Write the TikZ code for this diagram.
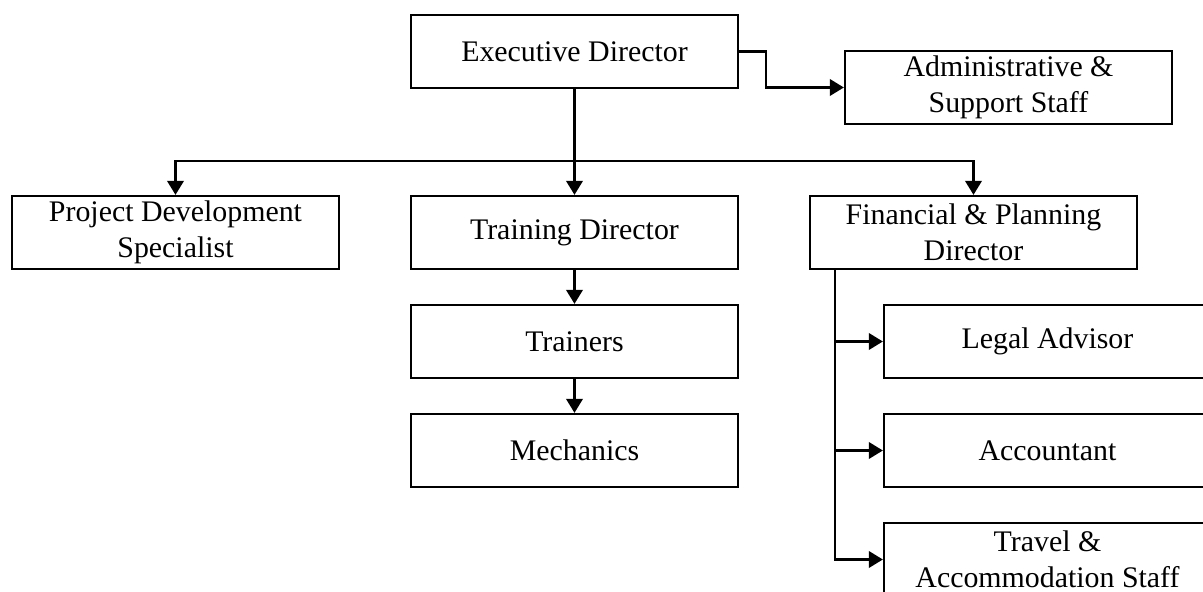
\documentclass[tikz,border=0pt]{standalone}
\usepackage{fontspec}
\setmainfont{Liberation Serif}
\usetikzlibrary{arrows.meta,positioning}

\begin{document}
\begin{tikzpicture}[
    node distance=2.18cm,
    every node/.style={align=center, font=\fontsize{17}{20.5}\selectfont},
    role/.style={rectangle, draw=black, line width=1.3pt, minimum width=6.54cm, minimum height=1.46cm, inner sep=0pt, text centered},
    arrow/.style={line width=1.25pt, -{Triangle[length=0.28cm, width=0.33cm]}}
]
\clip (-11.49,1.03) rectangle (12.57,-10.81);

% Top level
\node[role] (ed) {Executive Director};
\node[role, node distance=8.68cm, right of=ed, yshift=-0.72cm] (admin) {Administrative \&\\Support Staff};

% Directors
\node[role, node distance=3.62cm, below of=ed] (td) {Training Director};
\node[role, node distance=7.98cm, left of=td] (pds) {Project Development\\Specialist};
\node[role, node distance=7.98cm, right of=td] (fin) {Financial \& Planning\\Director};

% Training branch
\node[role, below of=td] (trainers) {Trainers};
\node[role, below of=trainers] (mech) {Mechanics};

% Finance branch
\node[role, below of=fin, xshift=1.48cm] (legal) {Legal Advisor};
\node[role, below of=legal] (acc) {Accountant};
\node[role, below of=acc] (travel) {Travel \&\\Accommodation Staff};

% Connections
\coordinate (bus) at ([yshift=-1.44cm]ed.south);
\coordinate (spine) at ([xshift=0.52cm]fin.south west);
\draw[arrow] (ed.east) -- ++(0.54,0) |- (admin.west);
\draw[arrow] (ed.south) -- (td.north);
\draw[arrow] (bus) -| (pds.north);
\draw[arrow] (bus) -| (fin.north);
\draw[arrow] (td.south) -- (trainers.north);
\draw[arrow] (trainers.south) -- (mech.north);
\draw[arrow] (spine) |- (legal.west);
\draw[arrow] (spine) |- (acc.west);
\draw[arrow] (spine) |- (travel.west);

\end{tikzpicture}
\end{document}
